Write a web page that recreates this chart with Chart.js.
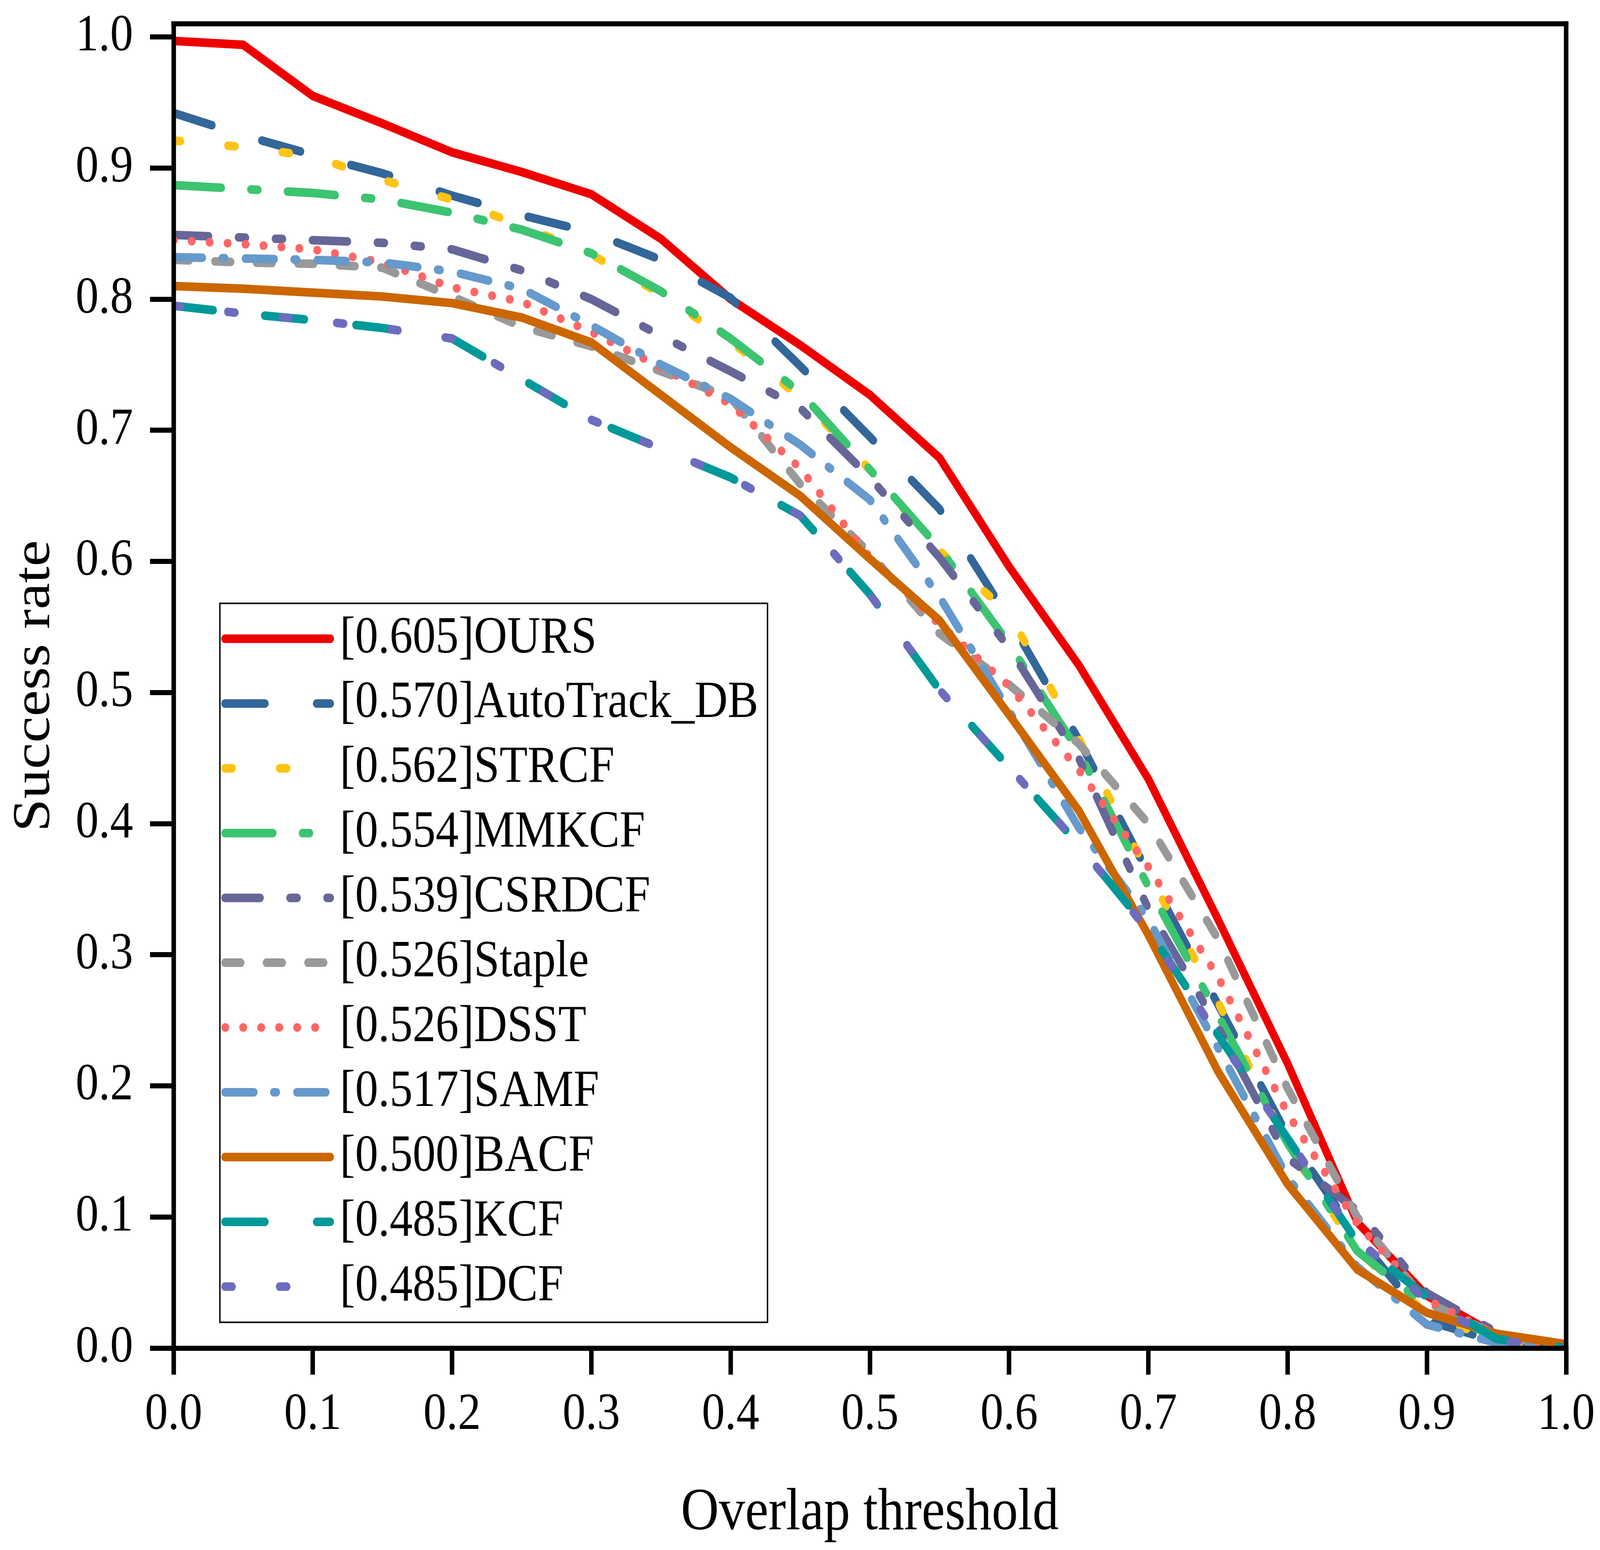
<!DOCTYPE html>
<html>
<head>
<meta charset="utf-8">
<style>
html,body{margin:0;padding:0;background:#fff;overflow:hidden}
canvas{display:block}
</style>
<script src="https://cdn.jsdelivr.net/npm/chart.js@4.4.1/dist/chart.umd.min.js"></script>
</head>
<body>
<canvas id="c" width="4628" height="3969" style="width:100vw;height:100vh"></canvas>
<script>
// ---------- data ----------
const thresholds = [0, 0.05, 0.1, 0.15, 0.2, 0.25, 0.3, 0.35, 0.4, 0.45, 0.5, 0.55, 0.6, 0.65, 0.7, 0.75, 0.8, 0.85, 0.9, 0.95, 1.0];
const xTickLabels = ['0.0','0.1','0.2','0.3','0.4','0.5','0.6','0.7','0.8','0.9','1.0'];
const trackerNames = ['OURS','AutoTrack_DB','STRCF','MMKCF','CSRDCF','Staple','DSST','SAMF','BACF','KCF','DCF'];
const aucScores = ['0.605','0.570','0.562','0.554','0.539','0.526','0.526','0.517','0.500','0.485','0.485'];

const oursVals      = [0.997,0.994,0.955,0.934,0.912,0.897,0.880,0.846,0.800,0.765,0.727,0.679,0.596,0.521,0.434,0.327,0.217,0.096,0.040,0.010,0.000];
const autoTrackVals = [0.942,0.925,0.910,0.896,0.879,0.864,0.851,0.830,0.801,0.749,0.695,0.640,0.556,0.464,0.362,0.262,0.162,0.085,0.021,0.005,0.000];
const strcfVals     = [0.921,0.916,0.909,0.891,0.876,0.856,0.834,0.804,0.768,0.725,0.670,0.608,0.560,0.465,0.362,0.264,0.154,0.075,0.026,0.006,0.000];
const mmkcfVals     = [0.887,0.884,0.881,0.876,0.866,0.853,0.835,0.806,0.770,0.729,0.670,0.610,0.537,0.455,0.352,0.254,0.156,0.074,0.032,0.008,0.000];
const csrdcfVals    = [0.849,0.847,0.845,0.843,0.838,0.822,0.800,0.772,0.745,0.717,0.664,0.603,0.534,0.450,0.335,0.245,0.145,0.105,0.042,0.012,0.000];
const stapleVals    = [0.830,0.828,0.827,0.824,0.802,0.779,0.764,0.745,0.725,0.659,0.606,0.545,0.506,0.461,0.400,0.312,0.198,0.100,0.035,0.010,0.000];
const dsstVals      = [0.845,0.842,0.838,0.828,0.809,0.798,0.775,0.748,0.720,0.671,0.603,0.552,0.505,0.441,0.367,0.283,0.179,0.095,0.037,0.010,0.000];
const samfVals      = [0.832,0.831,0.830,0.828,0.821,0.808,0.780,0.750,0.724,0.689,0.647,0.573,0.486,0.397,0.327,0.229,0.130,0.062,0.018,0.004,0.000];
const bacfVals      = [0.810,0.808,0.805,0.802,0.797,0.786,0.767,0.727,0.687,0.650,0.602,0.555,0.483,0.410,0.315,0.211,0.125,0.060,0.027,0.011,0.003];
const kcfVals       = [0.795,0.789,0.784,0.778,0.770,0.739,0.708,0.686,0.664,0.635,0.575,0.502,0.443,0.384,0.319,0.239,0.160,0.081,0.039,0.007,0.000];
const dcfVals       = [0.795,0.789,0.784,0.778,0.770,0.739,0.708,0.686,0.664,0.635,0.575,0.502,0.443,0.384,0.318,0.238,0.160,0.083,0.036,0.006,0.000];

const seriesValues = [oursVals, autoTrackVals, strcfVals, mmkcfVals, csrdcfVals, stapleVals, dsstVals, samfVals, bacfVals, kcfVals, dcfVals];

// ---------- styles ----------
const seriesColors = ['#EE0000','#336699','#FFC312','#3CC471','#666699','#999999','#FF6666','#6699CC','#CC6600','#009999','#6C6CBE'];
const seriesDashes = [
  [],                         // OURS solid
  [115,150],                  // AutoTrack_DB long dash
  [20,138],                   // STRCF short dash
  [138,86,20,86],             // MMKCF dash-dot
  [101,87,20,87,20,87],       // CSRDCF dash-dot-dot
  [45,75],                    // Staple dash
  [1,51],                     // DSST dot
  [83,58,7,60],               // SAMF dash-dot
  [],                         // BACF solid
  [115,150],                  // KCF long dash
  [20,138]                    // DCF short dash
];
const LINE_W = 22;
const FONT = "'Liberation Serif', 'Times New Roman', Times, serif";

const datasets = trackerNames.map((name, i) => ({
  label: '[' + aucScores[i] + ']' + name,
  data: thresholds.map((t, k) => ({x: t, y: seriesValues[i][k]})),
  borderColor: seriesColors[i],
  backgroundColor: seriesColors[i],
  borderWidth: LINE_W,
  borderDash: seriesDashes[i],
  borderCapStyle: 'round',
  borderJoinStyle: 'round',
  pointRadius: 0,
  pointHoverRadius: 0,
  tension: 0,
  fill: false,
  clip: 0,
  order: trackerNames.length - i
}));

const bgPlugin = {
  id: 'whiteBg',
  beforeDraw(chart) {
    const ctx = chart.ctx;
    ctx.save();
    ctx.fillStyle = '#fff';
    ctx.fillRect(0, 0, chart.width, chart.height);
    ctx.restore();
  }
};

const framePlugin = {
  id: 'frame',
  afterDraw(chart) {
    const a = chart.chartArea;
    const ctx = chart.ctx;
    const w = 13;
    ctx.save();
    ctx.fillStyle = '#000';
    ctx.fillRect(a.left - w / 2, a.top - w / 2, a.right - a.left + w, w);
    ctx.fillRect(a.right - w / 2, a.top - w / 2, w, a.bottom - a.top + w);
    ctx.restore();
  }
};

const legendPlugin = {
  id: 'boxLegend',
  afterDraw(chart) {
    const ctx = chart.ctx;
    const box = {x: 636, y: 1545, w: 1584, h: 1841};
    const row0 = 1635.6, rowStep = 165.9;
    ctx.save();
    ctx.fillStyle = '#fff';
    ctx.fillRect(box.x, box.y, box.w, box.h);
    ctx.lineWidth = 4;
    ctx.strokeStyle = '#000';
    ctx.strokeRect(box.x, box.y, box.w, box.h);
    chart.data.datasets.forEach((ds, i) => {
      const y = row0 + i * rowStep;
      ctx.save();
      ctx.strokeStyle = ds.borderColor;
      ctx.lineWidth = ds.borderWidth;
      ctx.lineCap = 'round';
      ctx.setLineDash(ds.borderDash || []);
      ctx.beginPath();
      ctx.moveTo(651, y);
      ctx.lineTo(955, y);
      ctx.stroke();
      ctx.restore();
      ctx.fillStyle = '#000';
      ctx.font = '133px ' + FONT;
      ctx.textBaseline = 'middle';
      ctx.textAlign = 'left';
      ctx.fillText(ds.label, 983, y);
    });
    ctx.restore();
  }
};

new Chart(document.getElementById('c'), {
  type: 'line',
  data: {datasets},
  plugins: [bgPlugin, framePlugin, legendPlugin],
  options: {
    responsive: false,
    maintainAspectRatio: false,
    devicePixelRatio: 1,
    animation: false,
    events: [],
    layout: {autoPadding: false, padding: {left: 0, top: 61, right: 98, bottom: 0}},
    plugins: {legend: {display: false}, tooltip: {enabled: false}, title: {display: false}},
    scales: {
      x: {
        type: 'linear',
        min: 0, max: 1,
        afterFit: s => { s.height = 517; s.paddingLeft = 0; s.paddingRight = 0; },
        border: {display: true, width: 13, color: '#000', z: 1},
        grid: {display: true, drawOnChartArea: false, drawTicks: true, tickLength: 68, tickWidth: 13, lineWidth: 13, tickColor: '#000', color: '#000'},
        ticks: {
          stepSize: 0.1, autoSkip: false, maxRotation: 0, padding: 38, color: '#000',
          font: {family: FONT, size: 133, lineHeight: 1},
          callback: (v) => { const i = Math.round(v * 10); return xTickLabels[i] !== undefined ? xTickLabels[i] : ''; }
        },
        title: {display: true, text: 'Overlap threshold', color: '#000', padding: {top: 0, bottom: 17}, font: {family: FONT, size: 152, lineHeight: 1}}
      },
      y: {
        type: 'linear',
        min: 0, max: 1.01,
        afterFit: s => { s.width = 502; s.paddingTop = 0; s.paddingBottom = 0; },
        border: {display: true, width: 13, color: '#000', z: 1},
        grid: {display: true, drawOnChartArea: false, drawTicks: true, tickLength: 68, tickWidth: 13, lineWidth: 13, tickColor: '#000', color: '#000'},
        ticks: {
          stepSize: 0.1, includeBounds: false, autoSkip: false, padding: 49, color: '#000',
          font: {family: FONT, size: 133, lineHeight: 1},
          callback: (v) => Number(v).toFixed(1)
        },
        title: {display: true, text: 'Success rate', color: '#000', padding: {top: 26, bottom: 0}, font: {family: FONT, size: 152, lineHeight: 1}}
      }
    }
  }
});
</script>
</body>
</html>
